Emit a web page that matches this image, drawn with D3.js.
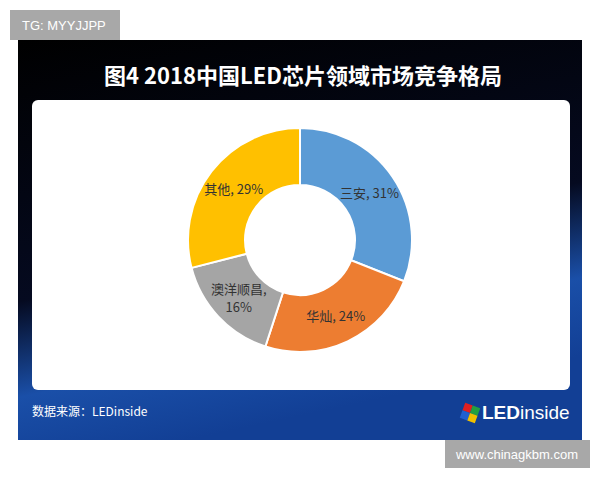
<!DOCTYPE html><html><head><meta charset="utf-8"><script src="https://d3js.org/d3.v7.min.js"></script>
<style>body{margin:0;background:#fff}</style></head><body><script>
const categories=["三安","华灿","澳洋顺昌","其他"];
const values=[31,24,16,29];
const colors=["#5b9bd5","#ed7d31","#a5a5a5","#ffc000"];
const W=600,H=480,font="'Noto Sans CJK SC',sans-serif";
const svg=d3.select("body").append("svg").attr("width",W).attr("height",H);
const defs=svg.append("defs");
const g1=defs.append("linearGradient").attr("id","bg").attr("x1",0).attr("y1",0).attr("x2",0.3).attr("y2",1);
g1.append("stop").attr("offset","0").attr("stop-color","#000");
g1.append("stop").attr("offset","0.6").attr("stop-color","#050a20");
g1.append("stop").attr("offset","0.82").attr("stop-color","#1a4fa8");
g1.append("stop").attr("offset","1").attr("stop-color","#123f95");
svg.append("rect").attr("x",18).attr("y",40).attr("width",564).attr("height",400).attr("fill","url(#bg)");
svg.append("rect").attr("x",10).attr("y",10).attr("width",110).attr("height",30).attr("fill","#a8a8a8");
svg.append("text").attr("x",22).attr("y",30).attr("fill","#fff").attr("font-size",13).attr("font-family","Arial,sans-serif").text("TG: MYYJJPP");
svg.append("text").attr("x",303).attr("y",84).attr("text-anchor","middle").attr("fill","#fff").attr("font-size",22).attr("font-weight","bold").attr("font-family",font).text("图4  2018中国LED芯片领域市场竞争格局");
svg.append("rect").attr("x",32).attr("y",100).attr("width",538).attr("height",290).attr("rx",6).attr("fill","#fff");
const cx=300,cy=240;
const pie=d3.pie().sort(null).value(d=>d)(values);
const arc=d3.arc().innerRadius(55).outerRadius(112);
const gp=svg.append("g").attr("transform",`translate(${cx},${cy})`);
gp.selectAll("path").data(pie).join("path").attr("d",arc).attr("fill",(d,i)=>colors[i]).attr("stroke","#fff").attr("stroke-width",2);
const lab=d3.arc().innerRadius(84).outerRadius(84);
const labels=[["三安, 31%"],["华灿, 24%"],["澳洋顺昌,","16%"],["其他, 29%"]];
pie.forEach((d,i)=>{const [x,y]=lab.centroid(d);const L=labels[i];
  L.forEach((s,j)=>gp.append("text").attr("font-family",font).attr("font-size",13).attr("fill","#333").attr("text-anchor","middle")
   .attr("x",x).attr("y",y+5+(j-(L.length-1)/2)*18).text(s));});
svg.append("text").attr("x",32).attr("y",416).attr("fill","#fff").attr("font-size",12).attr("font-family",font).text("数据来源：LEDinside");
const lg=svg.append("g").attr("transform","translate(462,405)");
[["#e02020",0,0],["#22a040",8,0],["#2060d0",0,8],["#f0c000",8,8]].forEach(([c,x,y])=>lg.append("rect").attr("x",x).attr("y",y).attr("width",8).attr("height",8).attr("fill",c).attr("transform","rotate(20 8 8)"));
svg.append("text").attr("x",482).attr("y",419).attr("fill","#fff").attr("font-size",19).attr("font-family","Arial,sans-serif").html('<tspan font-weight="bold">LED</tspan>inside');
svg.append("rect").attr("x",445).attr("y",440).attr("width",145).attr("height",28).attr("fill","#a8a8a8");
svg.append("text").attr("x",517).attr("y",459).attr("text-anchor","middle").attr("fill","#fff").attr("font-size",13).attr("font-family","Arial,sans-serif").text("www.chinagkbm.com");
</script></body></html>
